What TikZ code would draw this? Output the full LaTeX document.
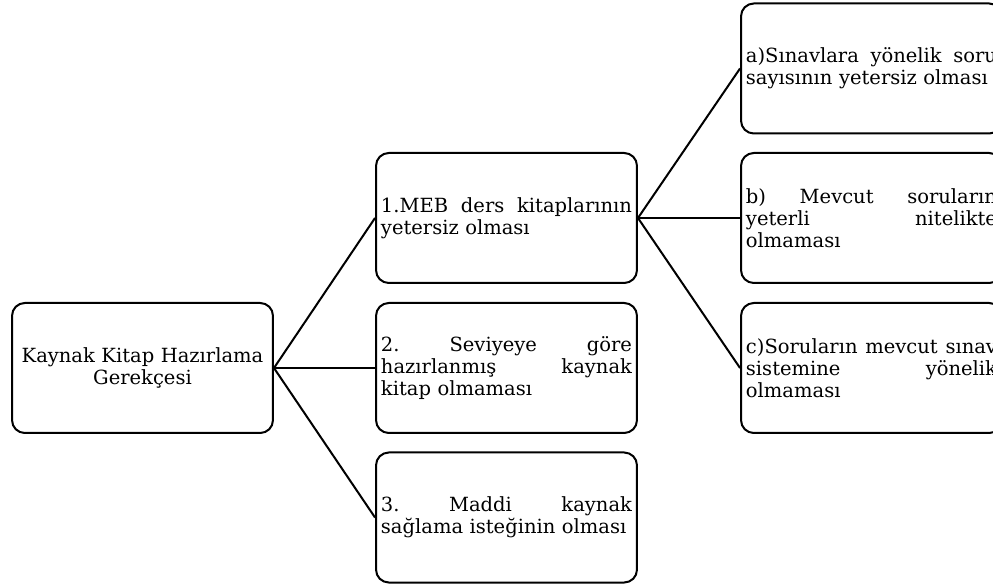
\documentclass[tikz,border=0pt]{standalone}
\usepackage{fontspec}
\setmainfont{DejaVu Serif}
\usepackage{tikz}

\tikzset{
  box/.style={draw, line width=1.25pt, rounded corners=8pt, text width=156.9pt,
    inner xsep=3.1pt, minimum height=81.25pt, font=\fontsize{12.2}{13.9}\selectfont},
  link/.style={line width=1.25pt}
}

\begin{document}
\begin{tikzpicture}[x=0.625pt, y=-0.625pt]
    \useasboundingbox (0,0) rectangle (993,586);
    \clip (0,0) rectangle (993,586);
    \node[box, align=center] (root) at (142.5,368) {Kaynak Kitap Hazırlama\\Gerekçesi};
    \node[box] (meb) at (506.5,218) {1.MEB\hfill ders\hfill kitaplarının\\yetersiz olması};
    \node[box] (seviye) at (506.5,368) {2.\hfill Seviyeye\hfill göre\\hazırlanmış\hfill kaynak\\kitap olmaması};
    \node[box] (maddi) at (506.5,517.5) {3.\hfill Maddi\hfill kaynak\\sağlama isteğinin olması};
    \node[box] (soru) at (871.5,68.5) {a)Sınavlara\hfill yönelik\hfill soru\\sayısının yetersiz olması};
    \node[box] (nitelik) at (871.5,218) {b)\hfill Mevcut\hfill soruların\\yeterli\hfill nitelikte\\olmaması};
    \node[box] (sistem) at (871.5,368) {c)Soruların\hfill mevcut\hfill sınav\\sistemine\hfill yönelik\\olmaması};
    \draw[link] (root.east) -- (meb.west);
    \draw[link] (root.east) -- (seviye.west);
    \draw[link] (root.east) -- (maddi.west);
    \draw[link] (meb.east) -- (soru.west);
    \draw[link] (meb.east) -- (nitelik.west);
    \draw[link] (meb.east) -- (sistem.west);
\end{tikzpicture}
\end{document}
